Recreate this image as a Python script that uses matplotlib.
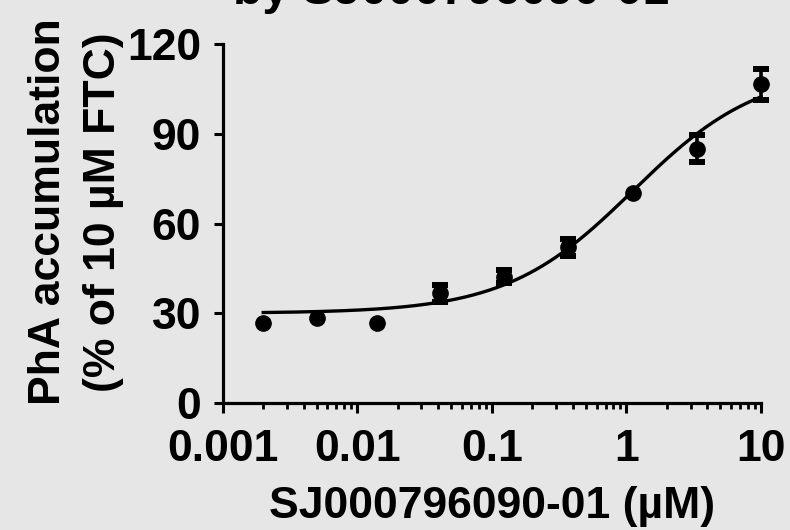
import numpy as np
import matplotlib
matplotlib.use("Agg")
import matplotlib.pyplot as plt
from matplotlib.ticker import FixedLocator, FixedFormatter, LogLocator, NullFormatter

plt.rcParams['font.family'] = ['Liberation Sans', 'DejaVu Sans']
plt.rcParams['font.weight'] = 'bold'

# ---- data ----
conc = [0.002, 0.005, 0.014, 0.041, 0.123, 0.37, 1.11, 3.33, 10]
mean = [26.9, 28.5, 26.9, 36.7, 42.2, 52.0, 70.2, 85.0, 106.5]
sem = [0.0, 0.0, 0.0, 2.8, 2.2, 2.9, 0.0, 4.5, 5.2]

# fitted 4-parameter logistic curve
fit_bottom = 30.0
fit_top = 112.0
fit_logec50 = 0.05
fit_hill = 0.92

xticks = [0.001, 0.01, 0.1, 1, 10]
xtick_labels = ['0.001', '0.01', '0.1', '1', '10']
yticks = [0, 30, 60, 90, 120]
ytick_labels = ['0', '30', '60', '90', '120']

title_text = 'by SJ000796090-01'
xlabel_text = 'SJ000796090-01 (µM)'
ylabel_line1 = 'PhA accumulation'
ylabel_line2 = '(% of 10 µM FTC)'

BG = '#e6e6e6'
W, H = 790, 530

fig = plt.figure(figsize=(W / 100, H / 100), dpi=100, facecolor=BG)
ax = fig.add_axes([222.7 / W, 1 - 403 / H, (761 - 222.7) / W, (403 - 44) / H])
ax.set_facecolor(BG)

ax.set_xscale('log')
ax.set_xlim(0.001, 10)
ax.set_ylim(0, 120)

# curve
xs = np.logspace(np.log10(conc[0]), np.log10(conc[-1]), 300)
ys = fit_bottom + (fit_top - fit_bottom) / (1 + 10 ** ((fit_logec50 - np.log10(xs)) * fit_hill))
ax.plot(xs, ys, color='black', lw=2.4, zorder=2, clip_on=False)

# error bars (only where visible)
c = np.array(conc)
m = np.array(mean)
s = np.array(sem)
mask = s > 0
ax.errorbar(c[mask], m[mask], yerr=s[mask], fmt='none', ecolor='black',
            elinewidth=2.6, capsize=5.6, capthick=4.3, zorder=3, clip_on=False)
ax.plot(c, m, 'o', color='black', ms=11, zorder=4, clip_on=False)

# axes styling
for side in ['top', 'right']:
    ax.spines[side].set_visible(False)
for side in ['left', 'bottom']:
    ax.spines[side].set_linewidth(2.3)

ax.xaxis.set_major_locator(FixedLocator(xticks))
ax.xaxis.set_major_formatter(FixedFormatter(xtick_labels))
ax.xaxis.set_minor_locator(LogLocator(base=10, subs=np.arange(2, 10)))
ax.xaxis.set_minor_formatter(NullFormatter())
ax.yaxis.set_major_locator(FixedLocator(yticks))
ax.yaxis.set_major_formatter(FixedFormatter(ytick_labels))

ax.tick_params(axis='x', which='major', direction='out', length=7.5, width=2.2,
               labelsize=32, pad=11)
ax.tick_params(axis='x', which='minor', direction='out', length=4.5, width=2.0)
ax.tick_params(axis='y', which='major', direction='out', length=6.5, width=2.2,
               labelsize=32, pad=9)
for lab in ax.get_xticklabels() + ax.get_yticklabels():
    lab.set_fontweight('bold')

# texts
fig.text(492 / W, 1 - 518 / H, xlabel_text, ha='center', va='baseline',
         fontsize=32, fontweight='bold')
fig.text(60 / W, 1 - 212 / H, ylabel_line1, rotation=90, rotation_mode='anchor',
         ha='center', va='baseline', fontsize=32, fontweight='bold')
fig.text(115 / W, 1 - 212 / H, ylabel_line2, rotation=90, rotation_mode='anchor',
         ha='center', va='baseline', fontsize=32, fontweight='bold')
# title: in the reference only the bottom of its last line shows at the top edge
fig.text(451 / W, 1 - 4 / H, title_text, ha='center', va='baseline',
         fontsize=34.5, fontweight='bold')

fig.savefig('out.png', dpi=100, facecolor=BG)
